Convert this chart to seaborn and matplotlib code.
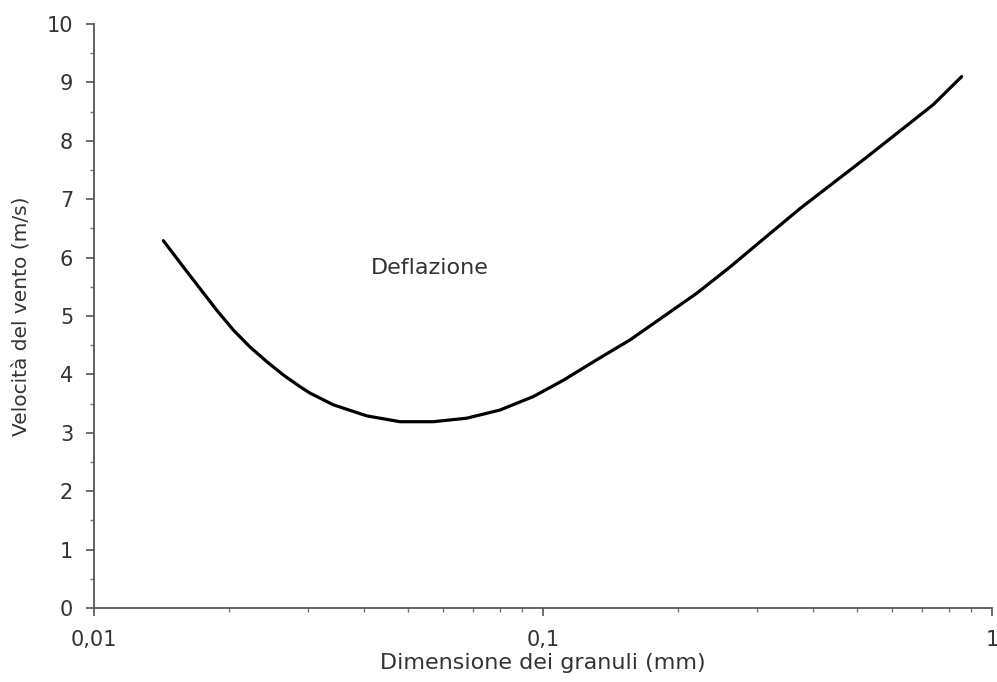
import matplotlib
matplotlib.use("Agg")
import matplotlib.pyplot as plt
import matplotlib.ticker as mticker
import pandas as pd
import seaborn as sns

# curva di deflazione
grain_mm = [0.01427, 0.01581, 0.01722, 0.01876, 0.02043, 0.02225, 0.02424,
            0.02640, 0.02876, 0.03027, 0.0341, 0.04049, 0.04803, 0.0570,
            0.0676, 0.0802, 0.0951, 0.1110, 0.1317, 0.1562, 0.1854, 0.2200,
            0.2610, 0.3043, 0.3736, 0.526, 0.740, 0.856]
wind_ms = [6.29, 5.84, 5.47, 5.10, 4.76, 4.47, 4.22,
           3.99, 3.79, 3.68, 3.48, 3.29, 3.19, 3.19,
           3.25, 3.39, 3.62, 3.90, 4.25, 4.59, 4.99, 5.39,
           5.84, 6.27, 6.84, 7.72, 8.62, 9.10]

x_ticks = [0.01, 0.1, 1]
x_ticklabels = ["0,01", "0,1", "1"]
y_ticks = list(range(0, 11))

sns.set_style("ticks")
plt.rcParams["font.family"] = ["DejaVu Sans"]

df = pd.DataFrame({"grain": grain_mm, "wind": wind_ms})

fig = plt.figure(figsize=(9.97, 6.82), dpi=100)
ax = fig.add_axes([0.0943, 0.1085, 0.9007, 0.8563])
sns.lineplot(data=df, x="grain", y="wind", color="black", linewidth=2.3, ax=ax)

ax.set_xscale("log")
ax.set_xlim(0.01, 1)
ax.set_ylim(0, 10)
ax.set_xticks(x_ticks)
ax.set_xticklabels(x_ticklabels)
ax.xaxis.set_minor_locator(mticker.LogLocator(base=10, subs=range(2, 10)))
ax.xaxis.set_minor_formatter(mticker.NullFormatter())
ax.set_yticks(y_ticks)
ax.yaxis.set_minor_locator(mticker.MultipleLocator(0.5))

sns.despine(ax=ax)
for s in ["left", "bottom"]:
    ax.spines[s].set_color("#555555")
    ax.spines[s].set_linewidth(1.3)
ax.tick_params(axis="both", which="major", length=6, width=1.2, color="#555555",
               labelsize=15, labelcolor="#333333")
ax.tick_params(axis="y", which="major", pad=9)
ax.tick_params(axis="x", which="major", pad=10)
ax.tick_params(axis="both", which="minor", length=3, width=1.0, color="#777777")

ax.set_xlabel("Dimensione dei granuli (mm)", fontsize=16, color="#333333", labelpad=2)
ax.set_ylabel("Velocità del vento (m/s)", fontsize=14.5, color="#333333", labelpad=12)

ax.text(0.056, 5.82, "Deflazione", fontsize=16, color="#333333", ha="center", va="center")

fig.savefig("out.png", dpi=100)
